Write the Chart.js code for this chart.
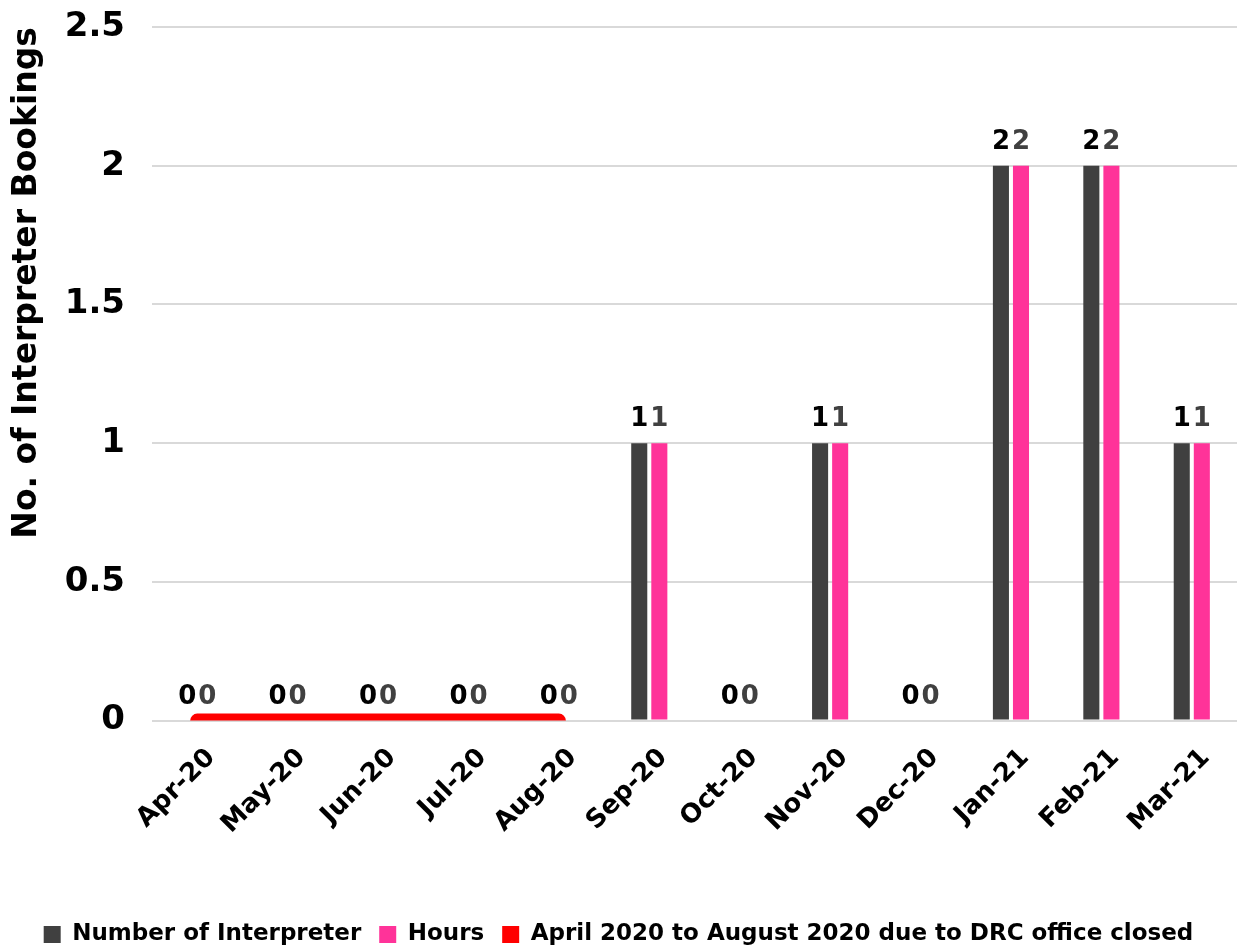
<!DOCTYPE html>
<html>
<head>
<meta charset="utf-8">
<script src="https://cdn.jsdelivr.net/npm/chart.js@4.4.0/dist/chart.umd.min.js"></script>
<style>
  html, body { margin: 0; padding: 0; background: #fff; }
  #wrap { width: 1255px; height: 947px; }
</style>
</head>
<body>
<div id="wrap"><canvas id="myChart" width="1255" height="947"></canvas></div>
<script>
const months = ['Apr-20', 'May-20', 'Jun-20', 'Jul-20', 'Aug-20', 'Sep-20',
                'Oct-20', 'Nov-20', 'Dec-20', 'Jan-21', 'Feb-21', 'Mar-21'];
const interpreters = [0, 0, 0, 0, 0, 1, 0, 1, 0, 2, 2, 1];
const hours = [0, 0, 0, 0, 0, 1, 0, 1, 0, 2, 2, 1];
const officeClosed = [0, 0, 0, 0, 0, null, null, null, null, null, null, null];
const yTicks = [0, 0.5, 1, 1.5, 2, 2.5];

const FONT = "'DejaVu Sans', sans-serif";

// value labels above each bar
const barLabels = {
  id: 'barLabels',
  afterDatasetsDraw(chart) {
    const ctx = chart.ctx;
    const colours = ['#000000', '#404040'];
    ctx.save();
    ctx.font = 'bold 26px ' + FONT;
    ctx.textAlign = 'center';
    ctx.textBaseline = 'alphabetic';
    [0, 1].forEach(di => {
      const meta = chart.getDatasetMeta(di);
      ctx.fillStyle = colours[di];
      meta.data.forEach((bar, i) => {
        const v = chart.data.datasets[di].data[i];
        ctx.fillText(String(v), bar.x, bar.y - 17);
      });
    });
    ctx.restore();
  }
};

const ctx = document.getElementById('myChart').getContext('2d');
const myChart = new Chart(ctx, {
  data: {
    labels: months,
    datasets: [
      {
        type: 'bar',
        label: 'Number of Interpreter',
        data: interpreters,
        backgroundColor: '#404040',
        barPercentage: 0.8,
        categoryPercentage: 0.444
      },
      {
        type: 'bar',
        label: 'Hours',
        data: hours,
        backgroundColor: '#ff3399',
        barPercentage: 0.8,
        categoryPercentage: 0.444
      },
      {
        type: 'line',
        label: 'April 2020 to August 2020 due to DRC office closed',
        data: officeClosed,
        borderColor: '#ff0000',
        backgroundColor: '#ff0000',
        borderWidth: 14,
        borderCapStyle: 'round',
        pointRadius: 0,
        fill: false
      }
    ]
  },
  options: {
    responsive: false,
    animation: false,
    layout: { padding: { top: 27, right: 18, bottom: -9, left: 0 } },
    plugins: {
      tooltip: { enabled: false },
      legend: {
        position: 'bottom',
        labels: {
          color: '#000',
          font: { family: FONT, size: 23, weight: 'bold' },
          boxWidth: 17,
          boxHeight: 17,
          padding: 18,
          generateLabels(chart) {
            const items = Chart.defaults.plugins.legend.labels.generateLabels(chart);
            return items.map(it => {
              const ds = chart.data.datasets[it.datasetIndex];
              it.fillStyle = ds.type === 'line' ? ds.borderColor : ds.backgroundColor;
              it.strokeStyle = it.fillStyle;
              it.lineWidth = 0;
              return it;
            });
          }
        }
      }
    },
    scales: {
      x: {
        grid: { display: false },
        border: { display: false },
        ticks: {
          color: '#000',
          font: { family: FONT, size: 26, weight: 'bold' },
          minRotation: 45,
          maxRotation: 45,
          labelOffset: 14,
          padding: 14
        },
        afterFit(axis) {
          axis.height += 51;
          axis.paddingLeft = 0;
          axis.paddingRight = 0;
        }
      },
      y: {
        min: 0,
        max: 2.5,
        afterBuildTicks(axis) { axis.ticks = yTicks.map(v => ({ value: v })); },
        afterFit(axis) {
          axis.paddingTop = 0;
          axis.paddingBottom = 0;
          axis.width = 152;
        },
        grid: { color: '#d9d9d9', lineWidth: 2, drawTicks: false },
        border: { display: false },
        ticks: {
          color: '#000',
          font: { family: FONT, size: 34, weight: 'bold' },
          padding: 27,
          callback: v => String(v)
        },
        title: {
          display: true,
          text: 'No. of Interpreter Bookings',
          align: 'end',
          color: '#000',
          font: { family: FONT, size: 33, weight: 'bold' },
          padding: { top: 8, bottom: 17 }
        }
      }
    }
  },
  plugins: [barLabels]
});
</script>
</body>
</html>
